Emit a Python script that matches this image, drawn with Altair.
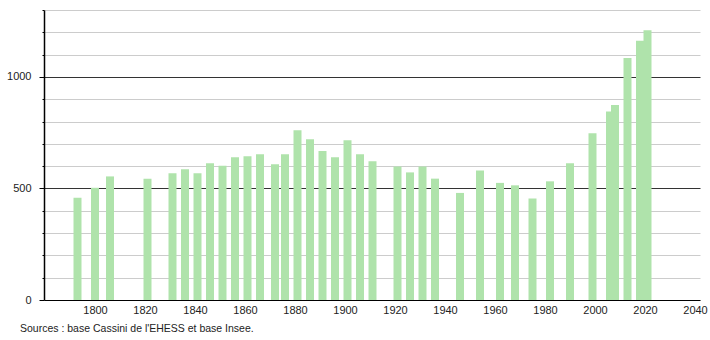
import altair as alt
import pandas as pd

years = [1793, 1800, 1806, 1821, 1831, 1836, 1841, 1846, 1851, 1856, 1861, 1866,
         1872, 1876, 1881, 1886, 1891, 1896, 1901, 1906, 1911, 1921, 1926, 1931,
         1936, 1946, 1954, 1962, 1968, 1975, 1982, 1990, 1999, 2006, 2008, 2013,
         2018, 2021]
population = [458, 503, 554, 544, 568, 586, 568, 613, 602, 640, 644, 653,
              608, 653, 761, 721, 668, 640, 716, 653, 622, 598, 572, 598,
              544, 480, 581, 525, 514, 455, 532, 613, 748, 845, 874, 1085,
              1162, 1209]
x_ticks = [1800, 1820, 1840, 1860, 1880, 1900, 1920, 1940, 1960, 1980, 2000, 2020, 2040]
y_ticks = list(range(0, 1301, 100))
source_text = "Sources : base Cassini de l'EHESS et base Insee."

df = pd.DataFrame({"year": years, "pop": population})

FONT = "Liberation Sans"

bars = alt.Chart(df).mark_bar(color="#afe3ab", size=8).encode(
    x=alt.X("year:Q",
            scale=alt.Scale(domain=[1779.6, 2042], nice=False, zero=False, padding=0),
            axis=alt.Axis(values=x_ticks, format="d", title=None, ticks=False,
                          grid=False, domainColor="#000", domainWidth=1.2,
                          labelFont=FONT, labelFontSize=11, labelColor="#222",
                          labelPadding=4, labelFlush=False)),
    y=alt.Y("pop:Q",
            scale=alt.Scale(domain=[0, 1300], nice=False, padding=0),
            axis=alt.Axis(values=y_ticks, title=None,
                          labelExpr="datum.value % 500 === 0 ? datum.label : ''",
                          format="d",
                          grid=True,
                          gridColor=alt.condition("datum.value % 500 === 0 && datum.value > 0",
                                                  alt.value("#333333"), alt.value("#cccccc")),
                          gridWidth=1,
                          tickColor="#000",
                          tickSize=alt.condition("datum.value % 500 === 0",
                                                 alt.value(5), alt.value(2)),
                          domainColor="#000", domainWidth=1.5,
                          labelFont=FONT, labelFontSize=11, labelColor="#222",
                          labelPadding=8)),
)

src = alt.Chart(pd.DataFrame({"t": [source_text]})).mark_text(
    align="left", baseline="middle", font=FONT, fontSize=10.5, color="#222"
).encode(text="t:N", x=alt.value(-24), y=alt.value(319))

chart = alt.layer(bars, src).properties(
    width=656, height=290,
    padding={"left": 44, "top": 10, "right": 10, "bottom": 40},
    autosize=alt.AutoSizeParams(type="none"),
).configure_view(stroke=None)

chart.save("out.html", embed_options={"renderer": "svg", "actions": False})
